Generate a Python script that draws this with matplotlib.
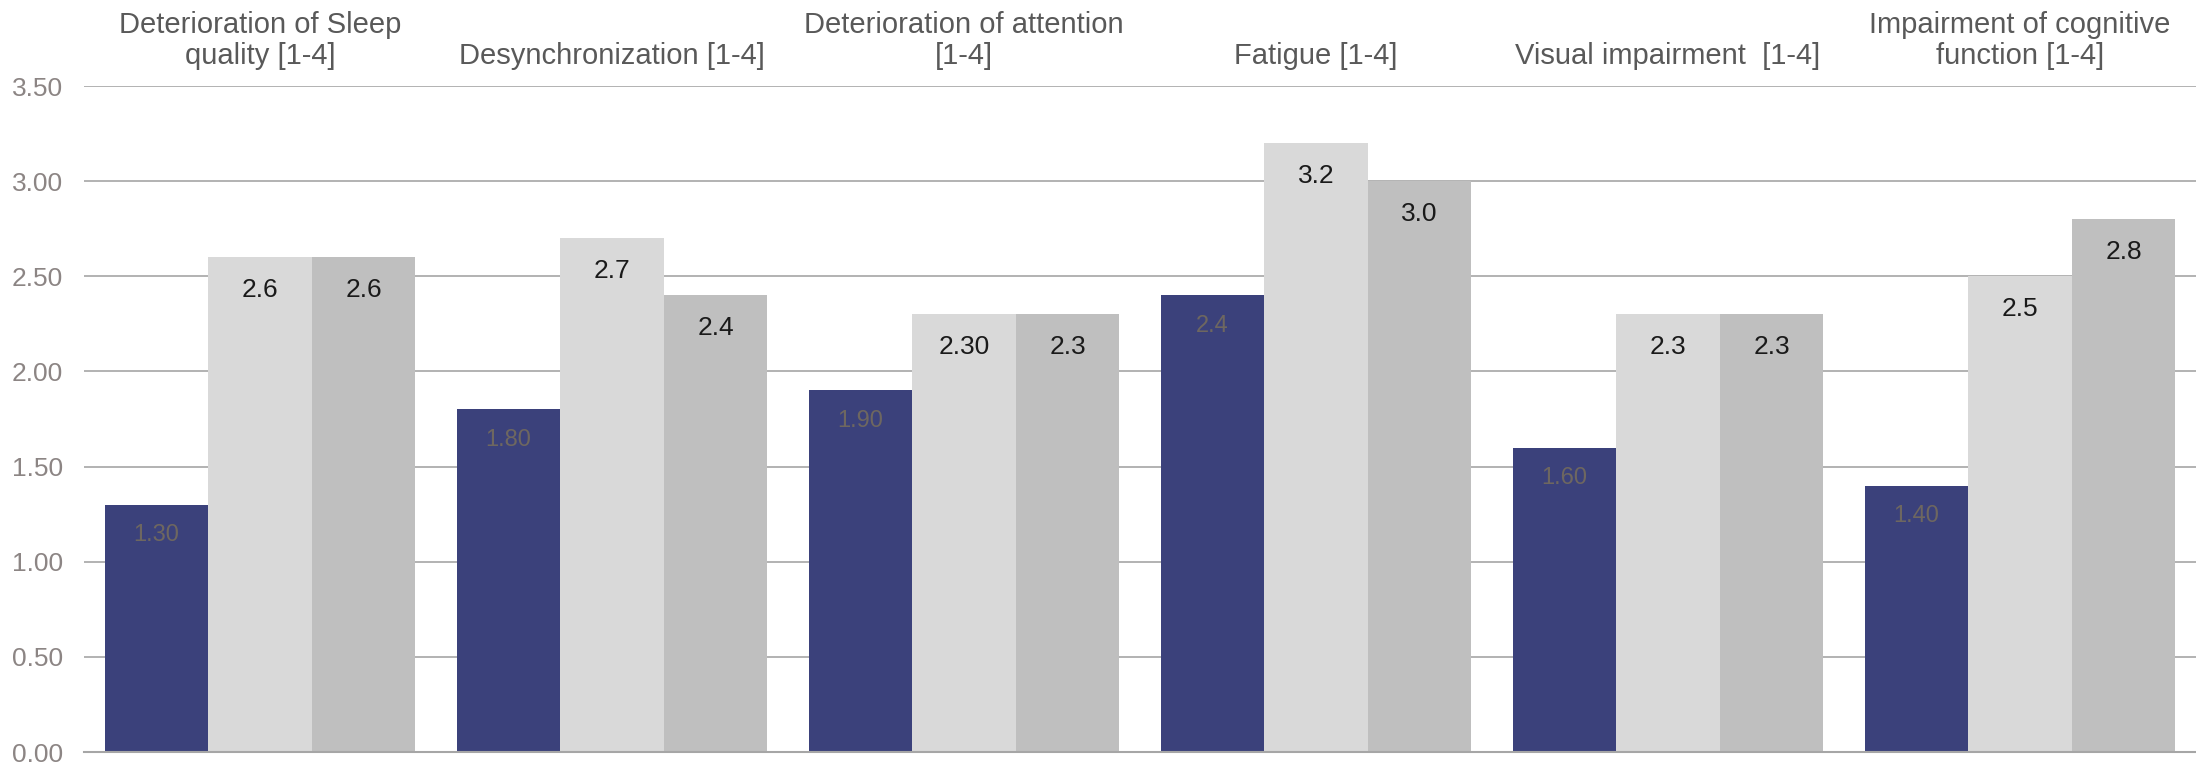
import matplotlib.pyplot as plt
import numpy as np
from matplotlib.transforms import blended_transform_factory

plt.rcParams['font.family'] = ['Liberation Sans', 'DejaVu Sans']

categories = ["Deterioration of Sleep\nquality [1-4]", "Desynchronization [1-4]",
              "Deterioration of attention\n[1-4]", "Fatigue [1-4]",
              "Visual impairment  [1-4]", "Impairment of cognitive\nfunction [1-4]"]
series_a = [1.30, 1.80, 1.90, 2.4, 1.60, 1.40]
series_b = [2.6, 2.7, 2.30, 3.2, 2.3, 2.5]
series_c = [2.6, 2.4, 2.3, 3.0, 2.3, 2.8]
labels_a = ["1.30", "1.80", "1.90", "2.4", "1.60", "1.40"]
labels_b = ["2.6", "2.7", "2.30", "3.2", "2.3", "2.5"]
labels_c = ["2.6", "2.4", "2.3", "3.0", "2.3", "2.8"]

fig = plt.figure(figsize=(21.96, 7.65), dpi=100)
ax = fig.add_axes([84/2196, 13/765, 1 - 84/2196, (752-86)/765])

x = np.arange(len(categories))
w = 0.294
colors = ["#3B417B", "#D9D9D9", "#BFBFBF"]
for i, (vals, labs, col, tc, fs, off) in enumerate([
        (series_a, labels_a, colors[0], "#6E6760", 17, -20),
        (series_b, labels_b, colors[1], "#1A1A1A", 19, -22),
        (series_c, labels_c, colors[2], "#1A1A1A", 19, -22)]):
    bars = ax.bar(x + (i - 1) * w, vals, width=w, color=col, zorder=2)
    for b, lab in zip(bars, labs):
        ax.annotate(lab, (b.get_x() + b.get_width() / 2, b.get_height()),
                    xytext=(0, off), textcoords="offset points",
                    ha="center", va="center_baseline", fontsize=fs, color=tc, zorder=3)

ax.set_xlim(-0.5, len(categories) - 0.5)
ax.set_ylim(0, 3.5)
ax.set_yticks(np.arange(0, 3.51, 0.5))
ax.set_yticklabels([f"{v:.2f}" for v in np.arange(0, 3.51, 0.5)])
ax.tick_params(axis="y", length=0, pad=15, labelsize=19, labelcolor="#8C8584")
ax.set_xticks([])
ax.yaxis.grid(True, color="#A6A6A6", lw=1.2, zorder=1)
for s in ["top", "right", "left"]:
    ax.spines[s].set_visible(False)
ax.spines["bottom"].set_color("#A6A6A6")
ax.spines["bottom"].set_linewidth(1.5)
ax.set_axisbelow(True)

trans = blended_transform_factory(ax.transData, ax.transAxes)
for xi, cat in zip(x, categories):
    ax.text(xi, 1.024, cat, transform=trans, ha="center", va="bottom",
            fontsize=21, color="#595959", linespacing=1.12)

fig.savefig("out.png", dpi=100)
